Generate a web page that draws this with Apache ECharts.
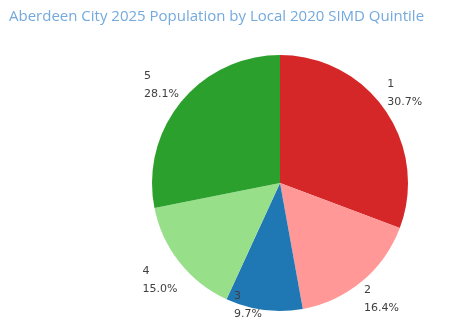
<!DOCTYPE html>
<html><head><meta charset="utf-8">
<script src="https://cdn.jsdelivr.net/npm/echarts@6/dist/echarts.min.js"></script>
<style>html,body{margin:0;padding:0;background:#fff}#c{width:471px;height:334px}</style>
</head><body><div id="c"></div>
<script>
const titleText = 'Aberdeen City 2025 Population by Local 2020 SIMD Quintile';
const categories = ['1', '2', '3', '4', '5'];
const shares = [30.7, 16.4, 9.7, 15.0, 28.1];
const colors = ['#d62728', '#ff9896', '#1f77b4', '#98df8a', '#2ca02c'];

const total = shares.reduce((a, b) => a + b, 0);
const midCos = [], midSin = [];
let acc = 0;
shares.forEach(v => { const mid = (acc + v / 2) / total * 2 * Math.PI; midCos.push(Math.cos(mid)); midSin.push(Math.sin(mid)); acc += v; });

const H = 334;
const chart = echarts.init(document.getElementById('c'), null, {renderer: 'canvas'});
chart.setOption({
  animation: false,
  title: {
    text: titleText, left: 4, top: 4,
    textStyle: {fontFamily: 'Open Sans', fontSize: 15, fontWeight: 'normal', color: '#74a9dd'}
  },
  series: [{
    type: 'pie',
    center: [280, 183],
    radius: [0, 128],
    startAngle: 90,
    clockwise: true,
    data: categories.map((c, i) => ({name: c, value: shares[i], itemStyle: {color: colors[i]}})),
    label: {
      show: true, position: 'outside',
      formatter: p => p.name + '\n' + p.value.toFixed(1) + '%',
      fontFamily: 'DejaVu Sans', fontSize: 11, color: '#404040', lineHeight: 18
    },
    labelLine: {show: false, length: 0, length2: 0},
    labelLayout: p => {
      const r = p.labelRect;
      const top = midCos[p.dataIndex] > 0;
      let y = top ? r.y - r.height / 2 + 1 : r.y + r.height / 2;
      y = Math.min(y, H - r.height - 11);
      const x = r.x + (midSin[p.dataIndex] > 0 ? -3 : 3);
      return {x: x, y: y, align: 'left', verticalAlign: 'top'};
    }
  }]
});
</script></body></html>
